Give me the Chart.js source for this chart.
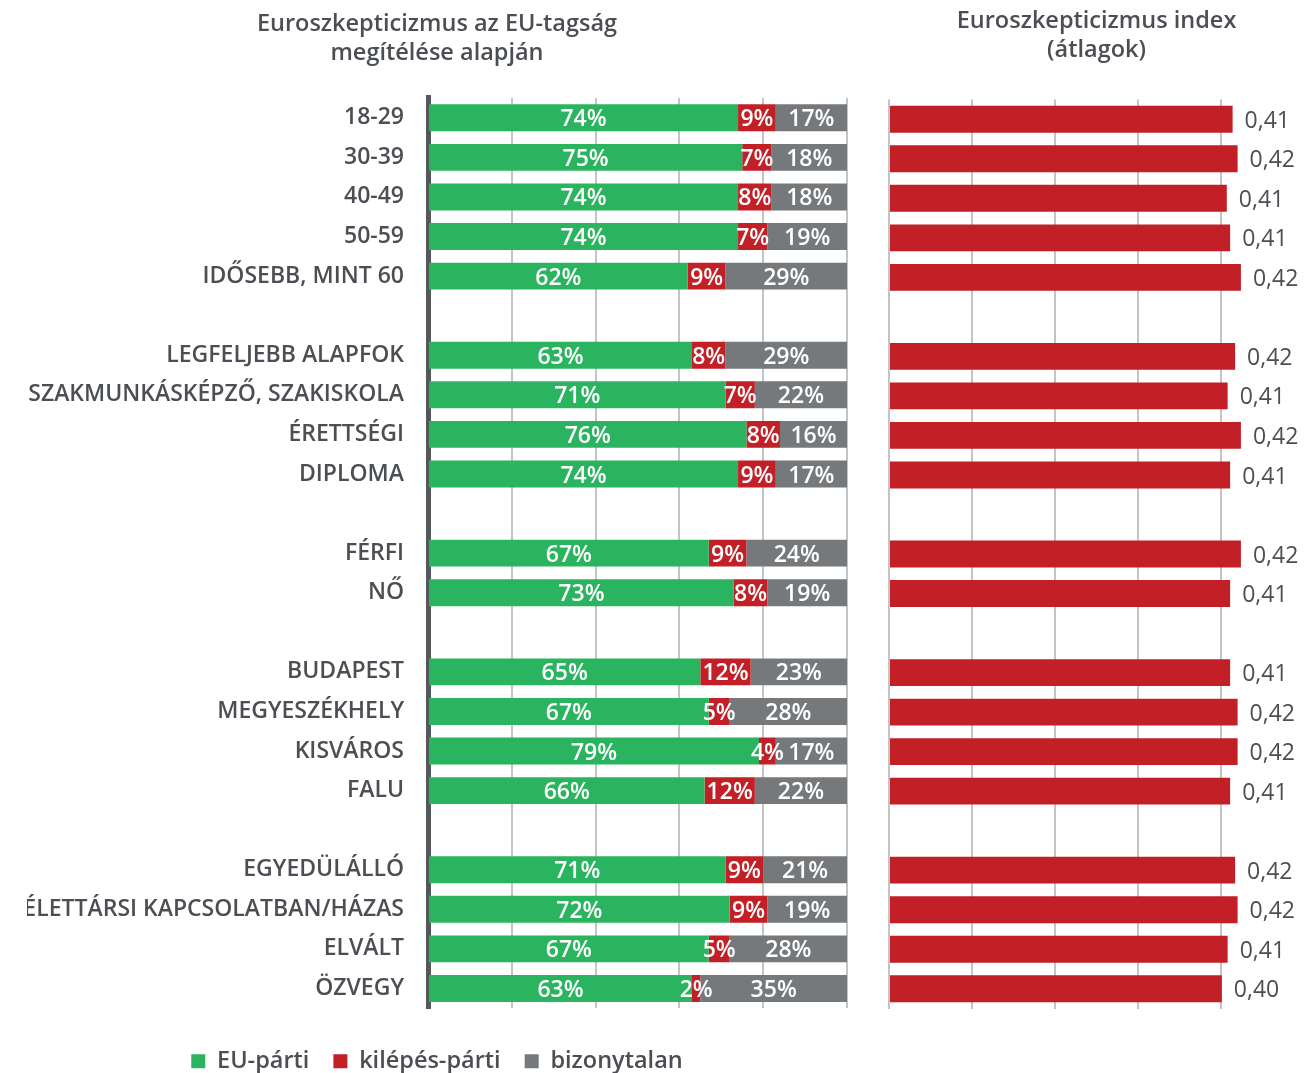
<!DOCTYPE html>
<html lang="hu">
<head>
<meta charset="utf-8">
<title>Euroszkepticizmus</title>
<script src="https://cdn.jsdelivr.net/npm/chart.js@4/dist/chart.umd.min.js"></script>
<style>
  html, body { margin: 0; padding: 0; background: #fff; overflow: hidden; }
  #wrap { position: relative; width: 1307px; height: 1073px; overflow: hidden; }
  #left { position: absolute; left: 0; top: 0; }
  #right { position: absolute; left: 887px; top: 0; }
</style>
</head>
<body>
<div id="wrap">
  <canvas id="left" width="874" height="1083"></canvas>
  <canvas id="right" width="420" height="1073"></canvas>
</div>
<script>
// Respondent groups; empty strings are spacer rows between the groups
const categories = [
  '18-29', '30-39', '40-49', '50-59', 'IDŐSEBB, MINT 60', '',
  'LEGFELJEBB ALAPFOK', 'SZAKMUNKÁSKÉPZŐ, SZAKISKOLA', 'ÉRETTSÉGI', 'DIPLOMA', '',
  'FÉRFI', 'NŐ', '',
  'BUDAPEST', 'MEGYESZÉKHELY', 'KISVÁROS', 'FALU', '',
  'EGYEDÜLÁLLÓ', 'ÉLETTÁRSI KAPCSOLATBAN/HÁZAS', 'ELVÁLT', 'ÖZVEGY'
];

// Share of answers (%)
const euParti      = [74, 75, 74, 74, 62, null, 63, 71, 76, 74, null, 67, 73, null, 65, 67, 79, 66, null, 71, 72, 67, 63];
const kilepesParti = [ 9,  7,  8,  7,  9, null,  8,  7,  8,  9, null,  9,  8, null, 12,  5,  4, 12, null,  9,  9,  5,  2];
const bizonytalan  = [17, 18, 18, 19, 29, null, 29, 22, 16, 17, null, 24, 19, null, 23, 28, 17, 22, null, 21, 19, 28, 35];

// Euroscepticism index (group means)
const indexValues = [0.414, 0.420, 0.407, 0.411, 0.424, null, 0.417, 0.408, 0.424, 0.411, null, 0.424, 0.411, null,
                     0.411, 0.420, 0.420, 0.411, null, 0.417, 0.420, 0.408, 0.401];

const seriesNames = ['EU-párti', 'kilépés-párti', 'bizonytalan'];
const leftTitle  = ['Euroszkepticizmus az EU-tagság', 'megítélése alapján'];
const rightTitle = ['Euroszkepticizmus index', '(átlagok)'];

const GREEN = '#2bb45f';
const RED   = '#c21f26';
const GREY  = '#76797c';
const TEXT  = '#4b4e52';
const GRID  = '#c4c4c4';
const FONT  = "'Open Sans', 'DejaVu Sans', sans-serif";

// Writes a text label on every bar: centred inside the segment or just past its end
function makeBarLabels(id, cfg) {
  return {
    id: id,
    afterDatasetsDraw(chart) {
      const ctx = chart.ctx;
      ctx.save();
      ctx.font = cfg.font;
      ctx.fillStyle = cfg.color;
      ctx.textBaseline = 'middle';
      chart.data.datasets.forEach((ds, di) => {
        const meta = chart.getDatasetMeta(di);
        meta.data.forEach((bar, i) => {
          const v = ds.data[i];
          if (v === null || v === undefined) return;
          const p = bar.getProps(['x', 'y', 'base'], true);
          const text = cfg.format(v);
          if (cfg.inside) {
            const end = Math.min(p.x, chart.chartArea.right);
            ctx.textAlign = 'center';
            ctx.fillText(text, (end + p.base) / 2, p.y + cfg.dy);
          } else {
            ctx.textAlign = 'left';
            ctx.fillText(text, p.x + cfg.offset, p.y + cfg.dy);
          }
        });
      });
      ctx.restore();
    }
  };
}

const shareLabels = makeBarLabels('shareLabels', {
  font: "600 23px " + FONT, color: '#ffffff', inside: true, dy: 2,
  format: v => v + '%'
});
const indexLabels = makeBarLabels('indexLabels', {
  font: "500 23px " + FONT, color: TEXT, inside: false, offset: 12, dy: 2,
  format: v => v.toFixed(2).replace('.', ',')
});

Chart.defaults.font.family = FONT;

// Left panel: stacked shares
new Chart(document.getElementById('left'), {
  type: 'bar',
  data: {
    labels: categories,
    datasets: [
      { label: seriesNames[0], data: euParti,      backgroundColor: GREEN, borderWidth: 0 },
      { label: seriesNames[1], data: kilepesParti, backgroundColor: RED,   borderWidth: 0 },
      { label: seriesNames[2], data: bizonytalan,  backgroundColor: GREY,  borderWidth: 0 }
    ]
  },
  options: {
    indexAxis: 'y',
    responsive: false,
    animation: false,
    devicePixelRatio: 1,
    layout: { padding: { left: 27, right: 27, top: 0, bottom: 0 } },
    datasets: { bar: { barPercentage: 0.68, categoryPercentage: 1 } },
    scales: {
      x: {
        stacked: true, min: 0, max: 100,
        ticks: { display: false, stepSize: 20 },
        grid: {
          drawTicks: false, lineWidth: 2,
          color: c => (c.tick && c.tick.value === 0) ? 'rgba(0,0,0,0)' : GRID
        },
        border: { display: false },
        afterFit: s => { s.height = 17.25; }
      },
      y: {
        stacked: true,
        ticks: { color: TEXT, font: { size: 23, weight: '600' }, padding: 24, autoSkip: false },
        grid: { display: false, drawTicks: false },
        border: { display: true, color: '#55585b', width: 5 },
        afterFit: s => { s.width = 401; }
      }
    },
    plugins: {
      title: {
        display: true, text: leftTitle, color: TEXT,
        font: { size: 23.5, weight: '600', lineHeight: 1.234 },
        padding: { top: 10, bottom: 30 }
      },
      legend: {
        position: 'bottom',
        labels: { boxWidth: 14, boxHeight: 14, padding: 24, color: TEXT, font: { size: 23.5, weight: '600' } }
      },
      tooltip: { enabled: false }
    }
  },
  plugins: [shareLabels]
});

// Right panel: index means
new Chart(document.getElementById('right'), {
  type: 'bar',
  data: {
    labels: categories,
    datasets: [
      { label: 'Euroszkepticizmus index', data: indexValues, backgroundColor: RED, borderWidth: 0 }
    ]
  },
  options: {
    indexAxis: 'y',
    responsive: false,
    animation: false,
    devicePixelRatio: 1,
    layout: { padding: { left: 2, right: 3, top: 0, bottom: 64.5 } },
    datasets: { bar: { barPercentage: 0.68, categoryPercentage: 1 } },
    scales: {
      x: {
        min: 0, max: 0.5,
        ticks: { display: false, stepSize: 0.1 },
        grid: {
          drawTicks: false, lineWidth: 2,
          color: c => (c.tick && c.tick.value > 0.45) ? 'rgba(0,0,0,0)' : GRID
        },
        border: { display: false }
      },
      y: { display: false }
    },
    plugins: {
      title: {
        display: true, text: rightTitle, color: TEXT,
        font: { size: 23.5, weight: '600', lineHeight: 1.234 },
        padding: { top: 6.5, bottom: 35 }
      },
      legend: { display: false },
      tooltip: { enabled: false }
    }
  },
  plugins: [indexLabels]
});
</script>
</body>
</html>
